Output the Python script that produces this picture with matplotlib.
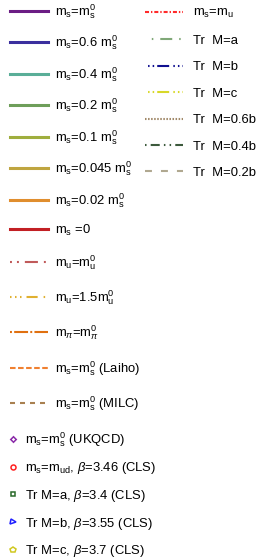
"""
Legend-only panel: quark-mass / trajectory styles used in the lattice plots.
"""

import matplotlib
matplotlib.use('Agg')
import matplotlib.pyplot as plt
from matplotlib.lines import Line2D

plt.rcParams['font.family'] = ['Liberation Sans', 'DejaVu Sans']
plt.rcParams['mathtext.fontset'] = 'custom'
plt.rcParams['mathtext.rm'] = 'Liberation Sans'
plt.rcParams['mathtext.it'] = 'Liberation Sans:italic'
plt.rcParams['mathtext.bf'] = 'Liberation Sans:bold'
plt.rcParams['lines.scale_dashes'] = False

MS = r'$\mathrm{m_s}$'
MS0 = r'$\mathrm{m_s^0}$'

# ---- legend content ----
solid_labels = [
    MS + '=' + MS0,
    MS + '=0.6 ' + MS0,
    MS + '=0.4 ' + MS0,
    MS + '=0.2 ' + MS0,
    MS + '=0.1 ' + MS0,
    MS + '=0.045 ' + MS0,
    MS + '=0.02 ' + MS0,
    MS + ' =0',
]
solid_colors = ['#6b1d84', '#3b2f9e', '#5aae98', '#6e9e5a',
                '#9fae3e', '#bfa540', '#e08e2e', '#c21f24']

dashed_labels = [
    r'$\mathrm{m_u}$=$\mathrm{m_u^0}$',
    r'$\mathrm{m_u}$=1.5$\mathrm{m_u^0}$',
    r'$\mathrm{m}_\pi$=$\mathrm{m}_\pi^\mathrm{0}$',
    MS + '=' + MS0 + ' (Laiho)',
    MS + '=' + MS0 + ' (MILC)',
]
dashed_colors = ['#c05a5a', '#e0b030', '#e07010', '#f08030', '#a88050']
dashed_styles = [
    (0, (1.4, 3.6, 1.4, 4.3, 9.4, 4.3)),
    (0, (1.1, 2.5, 1.1, 2.5, 1.1, 3.6, 8.0, 4.3)),
    (0, (1.4, 1.6, 10.0, 1.6)),
    (0, (4.0, 1.8)),
    (0, (3.6, 3.6)),
]

marker_labels = [
    MS + '=' + MS0 + ' (UKQCD)',
    MS + r'=$\mathrm{m_{ud}}$, $\beta$=3.46 (CLS)',
    r'Tr M=a, $\beta$=3.4 (CLS)',
    r'Tr M=b, $\beta$=3.55 (CLS)',
    r'Tr M=c, $\beta$=3.7 (CLS)',
]
marker_colors = ['#8a2aa8', '#ff2020', '#2a6a2a', '#2020ff', '#d0c820']
marker_shapes = ['D', 'o', 's', '>', 'p']
marker_sizes = [2.8, 3.6, 3.4, 3.6, 3.8]

right_labels = [
    MS + r'=$\mathrm{m_u}$',
    'Tr  M=a',
    'Tr  M=b',
    'Tr  M=c',
    'Tr  M=0.6b',
    'Tr  M=0.4b',
    'Tr  M=0.2b',
]
right_colors = ['#ff2a2a', '#80a878', '#101090', '#d8d828',
                '#a08868', '#3c5a3c', '#b0a890']
right_styles = [
    (0, (2.9, 1.4, 1.0, 1.4)),
    (14.8, (1.1, 5.0, 8.6, 5.0)),
    (16.0, (1.1, 2.2, 1.1, 2.2, 8.6, 3.0)),
    (16.0, (1.1, 2.2, 1.1, 2.2, 8.6, 3.0)),
    (0, (1.1, 1.1)),
    (0, (1.1, 3.0, 6.5, 3.0, 1.1, 3.0)),
    (0, (5.0, 6.5)),
]

W, H = 257, 558
fig = plt.figure(figsize=(W / 100, H / 100), dpi=100)
FS = 9.4


def fx(px):
    return px / W


def fy(px):
    return 1 - px / H


solid_h = [Line2D([], [], color=c, lw=2.2) for c in solid_colors]
dashed_h = [Line2D([], [], color=c, lw=1.5, linestyle=s)
            for c, s in zip(dashed_colors, dashed_styles)]
marker_h = [Line2D([], [], color=c, marker=m, ls='none', markersize=ms,
                   markerfacecolor='none', markeredgewidth=1.1)
            for c, m, ms in zip(marker_colors, marker_shapes, marker_sizes)]
right_h = [Line2D([], [], color=c, lw=1.5, linestyle=s)
           for c, s in zip(right_colors, right_styles)]

common = dict(loc='upper left', frameon=False, fontsize=FS, borderpad=0,
              borderaxespad=0)

fig.legend(solid_h, solid_labels, bbox_to_anchor=(fx(10), fy(2)),
           handlelength=2.91, handletextpad=0.54, labelspacing=0.985, **common)
fig.legend(dashed_h, dashed_labels, bbox_to_anchor=(fx(10), fy(253)),
           handlelength=2.91, handletextpad=0.54, labelspacing=1.275, **common)
fig.legend(marker_h, marker_labels, bbox_to_anchor=(fx(7), fy(430)),
           handlelength=0.92, handletextpad=0.46, labelspacing=0.895, **common)
fig.legend(right_h, right_labels, bbox_to_anchor=(fx(145), fy(7)),
           handlelength=2.91, handletextpad=0.77, labelspacing=1.097, **common)

fig.savefig('out.png', dpi=100, facecolor='white')
